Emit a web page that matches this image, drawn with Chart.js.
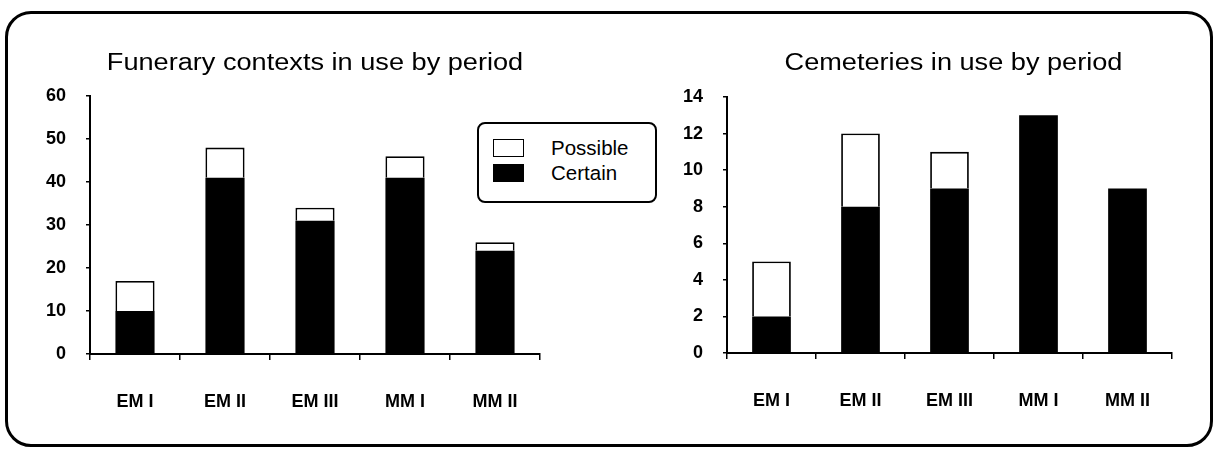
<!DOCTYPE html>
<html>
<head>
<meta charset="utf-8">
<script src="https://cdn.jsdelivr.net/npm/chart.js@4"></script>
<style>
  body { margin: 0; background: #fff; }
  #wrap { position: relative; width: 1218px; height: 451px; overflow: hidden; }
  #frame {
    position: absolute; left: 5px; top: 11px; width: 1208px; height: 436px;
    box-sizing: border-box; border: 3px solid #000; border-radius: 26px;
  }
  canvas { position: absolute; top: 0; }
  #legend {
    position: absolute; left: 477px; top: 122px; width: 180px; height: 81px;
    box-sizing: border-box; border: 2px solid #000; border-radius: 8px; background: #fff;
    font: 20.5px "Liberation Sans", Arial, sans-serif; padding-top: 11px;
  }
  .item { height: 25px; display: flex; align-items: center; }
  .swatch { width: 31px; height: 18px; box-sizing: border-box; border: 1.5px solid #000; margin: 0 27px 0 14px; }
</style>
</head>
<body>
<div id="wrap">
  <div id="frame"></div>
  <canvas id="contextsChart" width="609" height="451" style="left:0"></canvas>
  <canvas id="cemeteriesChart" width="609" height="451" style="left:609px"></canvas>
  <div id="legend"></div>
</div>
<script>
// periods on the x axis
const periods = ['EM I', 'EM II', 'EM III', 'MM I', 'MM II'];

// funerary contexts (left chart)
const contextsCertain = [10, 41, 31, 41, 24];
const contextsPossible = [7, 7, 3, 5, 2];

// cemeteries (right chart)
const cemeteriesCertain = [2, 8, 9, 13, 9];
const cemeteriesPossible = [3, 4, 2, 0, 0];

const FONT = '"Liberation Sans", Arial, sans-serif';

// the scanned titles are wider than normal Arial, so stretch the title sideways
const wideTitle = {
    id: 'wideTitle',
    afterLayout(chart) {
        const tb = chart.titleBlock;
        if (!tb || tb._wide) return;
        const orig = tb.draw.bind(tb);
        tb.draw = function () {
            const ctx = this.ctx;
            const mid = (this.left + this.right) / 2;
            ctx.save();
            ctx.translate(mid + (chart.options.titleShift || 0), 0);
            ctx.scale(1.18, 1);
            ctx.translate(-mid, 0);
            orig();
            ctx.restore();
        };
        tb._wide = true;
    }
};

function makeChart(id, title, certain, possible, yMax, yStep, pad, chartTop, xHeight, shift) {
    const ctx = document.getElementById(id).getContext('2d');
    return new Chart(ctx, {
        type: 'bar',
        data: {
            labels: periods,
            datasets: [{
                label: 'Certain',
                data: certain,
                backgroundColor: '#000',
                borderColor: '#000',
                borderWidth: 0
            }, {
                label: 'Possible',
                data: possible,
                backgroundColor: '#fff',
                borderColor: '#000',
                borderWidth: 1.8
            }]
        },
        options: {
            responsive: false,
            animation: false,
            titleShift: shift,
            layout: { padding: { left: pad.left, right: pad.right, top: 0, bottom: 0 } },
            datasets: { bar: { barPercentage: 0.435, categoryPercentage: 1 } },
            plugins: {
                legend: { display: false },
                tooltip: { enabled: false },
                title: {
                    display: true,
                    text: title,
                    fullSize: false,
                    color: '#000',
                    font: { family: FONT, size: 23, weight: 'normal', lineHeight: 1 },
                    padding: { top: 52, bottom: chartTop - 23 - 52 }
                }
            },
            scales: {
                x: {
                    stacked: true,
                    afterFit(s) { s.height = xHeight; },
                    border: { color: '#000', width: 2 },
                    grid: { drawOnChartArea: false, color: '#000', tickLength: 6, lineWidth: 1.5 },
                    ticks: { color: '#000', padding: 31, font: { family: FONT, size: 18, weight: 'bold' } }
                },
                y: {
                    stacked: true,
                    min: 0,
                    max: yMax,
                    afterFit(s) { s.width = 60; },
                    border: { color: '#000', width: 2 },
                    grid: { drawOnChartArea: false, color: '#000', tickLength: 4, lineWidth: 1.5 },
                    ticks: { stepSize: yStep, color: '#000', padding: 20, font: { family: FONT, size: 18, weight: 'bold' } }
                }
            }
        },
        plugins: [wideTitle]
    });
}

const contextsChart = makeChart('contextsChart', 'Funerary contexts in use by period',
    contextsCertain, contextsPossible, 60, 10, { left: 30, right: 69 }, 96, 97, 0);
const cemeteriesChart = makeChart('cemeteriesChart', 'Cemeteries in use by period',
    cemeteriesCertain, cemeteriesPossible, 14, 2, { left: 58, right: 46 }, 97, 98, 4);

// legend box, listed top to bottom like the original
const legendEl = document.getElementById('legend');
contextsChart.data.datasets.slice().reverse().forEach(ds => {
    const row = document.createElement('div');
    row.className = 'item';
    const sw = document.createElement('span');
    sw.className = 'swatch';
    sw.style.background = ds.backgroundColor;
    row.appendChild(sw);
    row.appendChild(document.createTextNode(ds.label));
    legendEl.appendChild(row);
});
</script>
</body>
</html>
